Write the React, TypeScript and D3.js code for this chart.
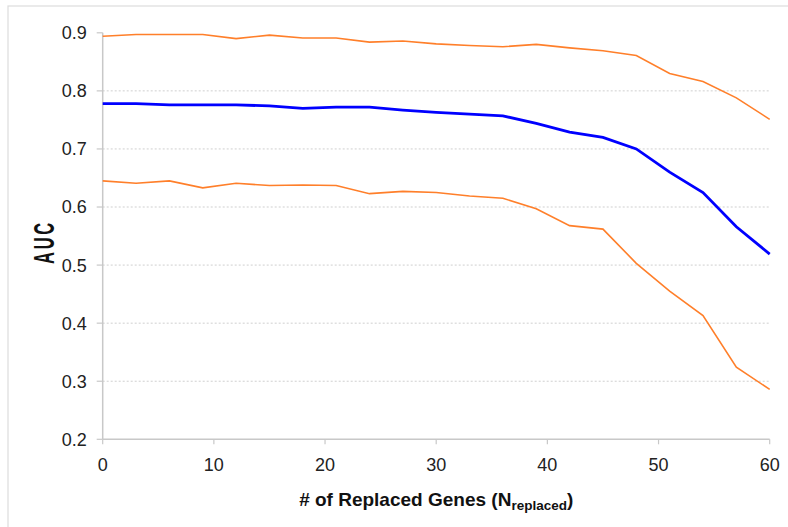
import React from "react";
import * as d3 from "d3";

// Number of replaced genes (x) and AUC summaries
const replaced = [0, 3, 6, 9, 12, 15, 18, 21, 24, 27, 30, 33, 36, 39, 42, 45, 48, 51, 54, 57, 60];
const aucUpper = [0.894, 0.897, 0.897, 0.897, 0.890, 0.896, 0.891, 0.891, 0.884, 0.886, 0.881, 0.878, 0.876, 0.880, 0.874, 0.869, 0.861, 0.830, 0.816, 0.788, 0.751];
const aucMean = [0.778, 0.778, 0.776, 0.776, 0.776, 0.774, 0.770, 0.772, 0.772, 0.767, 0.763, 0.760, 0.757, 0.744, 0.729, 0.720, 0.700, 0.660, 0.625, 0.566, 0.519];
const aucLower = [0.645, 0.641, 0.645, 0.633, 0.641, 0.637, 0.638, 0.637, 0.623, 0.627, 0.625, 0.619, 0.615, 0.597, 0.568, 0.562, 0.503, 0.455, 0.413, 0.324, 0.286];

const xTicks = [0, 10, 20, 30, 40, 50, 60];
const yTicks = [0.2, 0.3, 0.4, 0.5, 0.6, 0.7, 0.8, 0.9];
const gridTicks = [0.3, 0.4, 0.5, 0.6, 0.7, 0.8];

const W = 788;
const H = 527;
const left = 102.7;
const right = 769.7;
const top = 32.8;
const bottom = 439.3;

export default function App() {
  const x = d3.scaleLinear().domain([0, 60]).range([left, right]);
  const y = d3.scaleLinear().domain([0.2, 0.9]).range([bottom, top]);
  const line = (vals: number[]) =>
    d3
      .line<number>()
      .x((_, i) => x(replaced[i]))
      .y((v) => y(v))(vals) || "";

  const font = "'Liberation Sans', Arial, sans-serif";
  const axisColor = "#c8c8c8";

  return (
    <div style={{ position: "fixed", left: 0, top: 0 }}>
      <svg width={W} height={H} style={{ display: "block", background: "#fff" }}>
        {/* outer frame */}
        <rect x={8} y={6} width={W} height={H} fill="none" stroke="#dcdcdc" strokeWidth={1.2} />

        {/* horizontal grid */}
        {gridTicks.map((t) => (
          <line
            key={"g" + t}
            x1={left}
            x2={right}
            y1={y(t)}
            y2={y(t)}
            stroke="#cfcfcf"
            strokeWidth={1}
            strokeDasharray="2,2"
          />
        ))}

        {/* y axis */}
        <line x1={left} x2={left} y1={top} y2={bottom} stroke={axisColor} strokeWidth={1.5} />
        {yTicks.map((t) => (
          <g key={"y" + t}>
            <line x1={left - 6} x2={left} y1={y(t)} y2={y(t)} stroke={axisColor} strokeWidth={1.2} />
            <text
              x={left - 16}
              y={y(t)}
              dy="0.36em"
              textAnchor="end"
              fontFamily={font}
              fontSize={18}
              fill="#222"
            >
              {t.toFixed(1)}
            </text>
          </g>
        ))}

        {/* x axis */}
        <line x1={left} x2={right} y1={bottom} y2={bottom} stroke={axisColor} strokeWidth={1.5} />
        {xTicks.map((t) => (
          <g key={"x" + t}>
            <line x1={x(t)} x2={x(t)} y1={bottom} y2={bottom + 5} stroke={axisColor} strokeWidth={1.2} />
            <text
              x={x(t)}
              y={bottom + 31.5}
              textAnchor="middle"
              fontFamily={font}
              fontSize={18}
              fill="#222"
            >
              {t}
            </text>
          </g>
        ))}

        {/* series */}
        <path d={line(aucUpper)} fill="none" stroke="#ff7f2a" strokeWidth={1.6} />
        <path d={line(aucLower)} fill="none" stroke="#ff7f2a" strokeWidth={1.6} />
        <path d={line(aucMean)} fill="none" stroke="#0000ff" strokeWidth={2.8} />

        {/* axis titles */}
        <text
          x={(left + right) / 2}
          y={506}
          textAnchor="middle"
          fontFamily={font}
          fontWeight="bold"
          fontSize={19}
          fill="#111"
        >
          # of Replaced Genes (N
          <tspan fontSize={13.5} dy={4}>replaced</tspan>
          <tspan dy={-4}>)</tspan>
        </text>
        <g transform="translate(53.5,242) rotate(-90) scale(0.55,1)">
          <text
            x={0}
            y={0}
            textAnchor="middle"
            fontFamily={font}
            fontWeight="bold"
            fontSize={30}
            letterSpacing={5}
            fill="#111"
          >
            AUC
          </text>
        </g>
      </svg>
    </div>
  );
}
